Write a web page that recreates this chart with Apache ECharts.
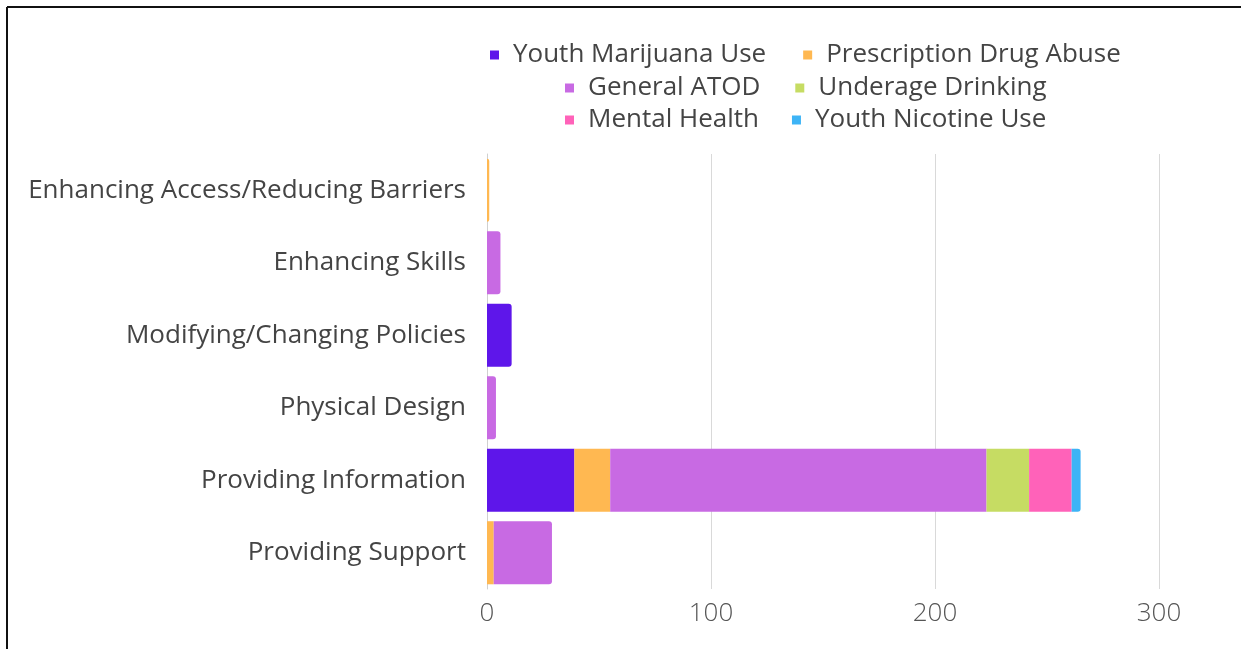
<!DOCTYPE html>
<html>
<head>
<meta charset="utf-8">
<script src="https://cdn.jsdelivr.net/npm/echarts@6/dist/echarts.min.js"></script>
<style>
html,body{margin:0;padding:0;background:#fff;}
#chart{width:1241px;height:649px;}
</style>
</head>
<body>
<div id="chart"></div>
<script>
const categories = ['Enhancing Access/Reducing Barriers','Enhancing Skills','Modifying/Changing Policies','Physical Design','Providing Information','Providing Support'];
const seriesNames = ['Youth Marijuana Use','Prescription Drug Abuse','General ATOD','Underage Drinking','Mental Health','Youth Nicotine Use'];
const youthMarijuana = [0, 0, 11, 0, 39, 0];
const prescriptionDrug = [1, 0, 0, 0, 16, 3];
const generalATOD = [0, 6, 0, 4, 168, 26];
const underageDrinking = [0, 0, 0, 0, 19, 0];
const mentalHealth = [0, 0, 0, 0, 19, 0];
const youthNicotine = [0, 0, 0, 0, 4, 0];
const xTicks = [0, 100, 200, 300];

const colors = ['#5e16ea','#ffb851','#c86ae3','#c6dc63','#ff62b9','#3db4f6'];
const values = [youthMarijuana, prescriptionDrug, generalATOD, underageDrinking, mentalHealth, youthNicotine];

// find last non-zero segment per category for rounded end
const lastIdx = categories.map((c, ci) => {
  let li = -1;
  values.forEach((arr, si) => { if (arr[ci] > 0) li = si; });
  return li;
});

const series = values.map((arr, si) => ({
  name: seriesNames[si],
  type: 'bar',
  stack: 'total',
  barCategoryGap: '13%',
  itemStyle: { color: colors[si] },
  data: arr.map((v, ci) => ({
    value: v === 0 ? null : v,
    itemStyle: lastIdx[ci] === si ? { borderRadius: [0, 3, 3, 0] } : {}
  }))
}));

const font = 'Open Sans';
const legendBase = {
  orient: 'horizontal',
  padding: 0,
  itemWidth: 9,
  itemHeight: 9,
  icon: 'rect',
  textStyle: { fontFamily: font, fontSize: 26, color: '#444', padding: [0, 0, 0, 9] }
};

const chart = echarts.init(document.getElementById('chart'), null, { renderer: 'canvas' });
chart.setOption({
  animation: false,
  textStyle: { fontFamily: font },
  legend: [
    Object.assign({}, legendBase, { left: 490, top: 42, itemGap: 37, data: [seriesNames[0], seriesNames[1]] }),
    Object.assign({}, legendBase, { left: 565, top: 75, itemGap: 35, data: [seriesNames[2], seriesNames[3]] }),
    Object.assign({}, legendBase, { left: 565, top: 107, itemGap: 33, data: [seriesNames[4], seriesNames[5]] })
  ],
  grid: { left: 487, right: 82, top: 154, bottom: 60, containLabel: false },
  xAxis: {
    type: 'value',
    min: xTicks[0],
    max: xTicks[xTicks.length - 1],
    interval: 100,
    axisLine: { show: false },
    axisTick: { show: false },
    splitLine: { show: true, lineStyle: { color: '#d9d9d9', width: 1 } },
    axisLabel: { fontFamily: font, fontSize: 26, color: '#555', fontWeight: 300, margin: 12 }
  },
  yAxis: {
    type: 'category',
    inverse: true,
    data: categories,
    axisLine: { show: true, lineStyle: { color: '#d0d0d0', width: 1 } },
    axisTick: { show: false },
    axisLabel: { fontFamily: font, fontSize: 26, color: '#444', margin: 21, padding: [8, 0, 0, 0] }
  },
  graphic: [
    { type: 'line', shape: { x1: 7, y1: 7, x2: 1241, y2: 7 }, style: { stroke: '#111', lineWidth: 2 } },
    { type: 'line', shape: { x1: 7, y1: 7, x2: 7, y2: 649 }, style: { stroke: '#111', lineWidth: 2 } }
  ],
  series: series
});
</script>
</body>
</html>
